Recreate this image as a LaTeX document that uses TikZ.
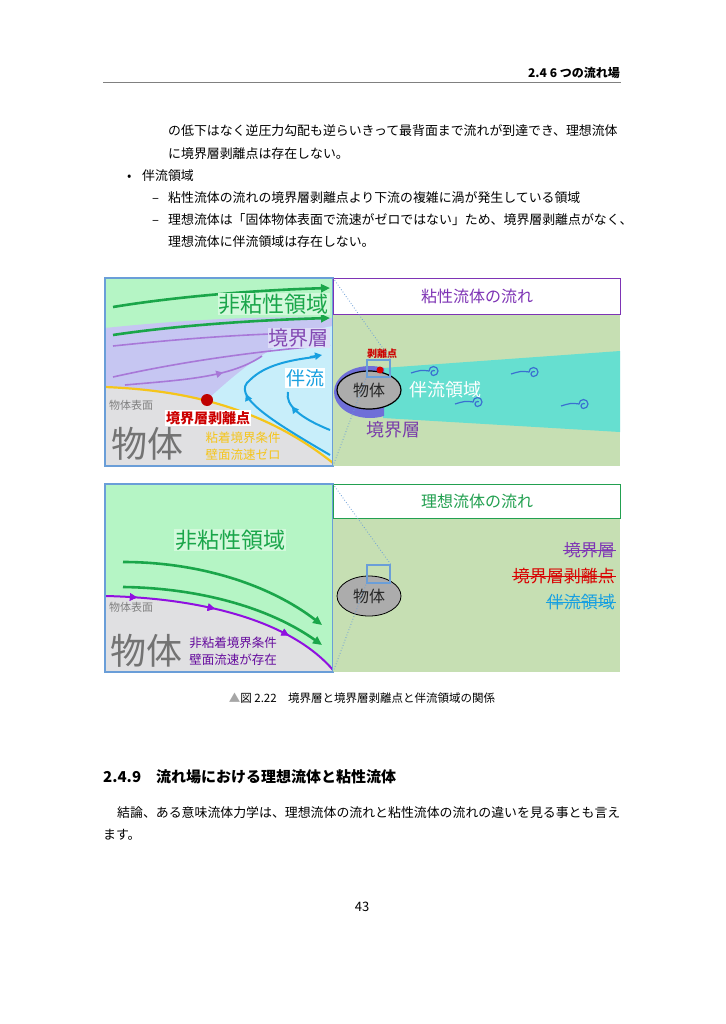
\documentclass[tikz,border=0pt]{standalone}
\usepackage{fontspec}
\setmainfont{Noto Sans CJK JP}
\usetikzlibrary{arrows.meta,decorations.markings,shapes.geometric}
\newcommand{\fsz}[1]{\fontsize{#1}{#1}\selectfont}
\definecolor{gbg}{HTML}{B5F5C5}
\definecolor{lav}{HTML}{C6C6F2}
\definecolor{lblue}{HTML}{C8EEFA}
\definecolor{gry}{HTML}{E0E0E2}
\definecolor{org}{HTML}{F5C51A}
\definecolor{garr}{HTML}{1AA64A}
\definecolor{parr}{HTML}{A878D8}
\definecolor{barr}{HTML}{18A0E0}
\definecolor{rbg}{HTML}{C6DFB3}
\definecolor{cyan2}{HTML}{66DFD0}
\definecolor{spir}{HTML}{3A70D0}
\definecolor{pur}{HTML}{7A3DAA}
\definecolor{frame}{HTML}{6A9ED8}
\definecolor{tgreen}{HTML}{22A050}
\definecolor{vio}{HTML}{9010E0}
\definecolor{crest}{HTML}{6F6FD8}
\tikzset{body/.style={anchor=base west,inner sep=0,font=\fsz{12.9}},
 garrow/.style={garr,line width=2.6pt,-{Triangle[length=9pt,width=8pt]}},
 parrow/.style={parr,line width=1.6pt},
 barrow/.style={barr,line width=2pt},
 zoomln/.style={frame,dotted,line width=0.8pt},
 midarr/.style={postaction={decorate},decoration={markings,mark=at position #1 with {\arrow{Triangle[length=7pt,width=7pt]}}}},
 lab/.style={inner sep=1pt}}
\begin{document}
\begin{tikzpicture}[x=1pt,y=-1pt]
\useasboundingbox (0,0) rectangle (725,1024);
\fill[white] (0,0) rectangle (725,1024);
% header
\node[anchor=base east,inner sep=0,font=\fsz{12}\bfseries] (hdr) at (620,78) {2.4 6 つの流れ場};
\draw[gray,line width=0.8pt] (103,82) -- (621,82);
\node[body] (t1) at (168,136) {の低下はなく逆圧力勾配も逆らいきって最背面まで流れが到達でき、理想流体};
\node[body] (t2) at (168,159) {に境界層剥離点は存在しない。};
\node[body] (b1) at (127,181) {•};
\node[body] (t3) at (142,181) {伴流領域};
\node[body] (d1) at (152,203) {–};
\node[body] (t4) at (168,203) {粘性流体の流れの境界層剥離点より下流の複雑に渦が発生している領域};
\node[body] (d2) at (152,225) {–};
\node[body] (t5) at (168,225) {理想流体は「固体物体表面で流速がゼロではない」ため、境界層剥離点がなく、};
\node[body] (t6) at (168,247) {理想流体に伴流領域は存在しない。};

% ===== top left panel
\begin{scope}
\clip (105,278) rectangle (333,466);
\fill[gbg] (105,278) rectangle (333,466);
\fill[lav] (105,328) .. controls (200,318) and (280,316) .. (333,318) -- (333,466) -- (105,466) -- cycle;
\fill[lblue] (207,400) .. controls (240,370) and (280,335) .. (333,326) -- (333,466) -- (207,466) -- cycle;
\fill[gry] (105,387) .. controls (180,390) and (260,405) .. (333,463) -- (333,466) -- (105,466) -- cycle;
\draw[org,line width=2.2pt] (105,387) .. controls (180,390) and (260,405) .. (333,463);
\draw[garrow] (113,307) .. controls (180,296) and (260,290) .. (330,288);
\draw[garrow] (113,335) .. controls (180,325) and (260,320) .. (330,318);
\draw[parrow] (113,346) .. controls (170,340) and (220,336) .. (270,334);
\draw[parrow] (113,377) .. controls (180,362) and (250,352) .. (330,345);
\draw[parrow,midarr=0.7] (125,385) .. controls (180,380) and (230,378) .. (262,356);
\draw[barrow,midarr=0.55] (330,455) .. controls (270,420) and (230,395) .. (250,380) .. controls (265,365) and (290,360) .. (315,357);
\draw[barr,line width=2pt,-{Triangle[length=7pt,width=7pt]}] (310,357) -- (322,355);
\draw[barrow,midarr=0.75] (330,430) .. controls (300,418) and (285,405) .. (288,392);
\end{scope}
\draw[frame,line width=1.2pt] (105,278) rectangle (333,466);
\node[lab,anchor=east,text=garr,font=\fsz{22},fill=gbg!60!white] (nv1) at (330,304) {非粘性領域};
\node[lab,anchor=east,text=pur!80!parr,font=\fsz{20},fill=lav!60!white] (bl1) at (330,338) {境界層};
\node[lab,anchor=center,text=barr,font=\fsz{19},fill=white] (wk1) at (305,378) {伴流};
\node[lab,anchor=west,text=gray,font=\fsz{11}] (sf1) at (108,405) {物体表面};
\fill[red!75!black] (207,400) circle (6);
\node[lab,anchor=center,text=red!80!black,font=\fsz{14}\bfseries,fill=white] (sp1) at (208,418) {境界層剥離点};
\node[lab,anchor=center,text=gray!90!black,font=\fsz{36}] (ob1) at (147,444) {物体};
\node[lab,anchor=center,text=org,font=\fsz{12.5}] (c1) at (243,438) {粘着境界条件};
\node[lab,anchor=center,text=org,font=\fsz{12.5}] (c2) at (243,455) {壁面流速ゼロ};

% ===== top right panel
\fill[rbg] (333,314) rectangle (620,466);
\fill[cyan2] (383,368) -- (620,351) -- (620,432) -- (383,418) -- cycle;
\begin{scope}
\clip (330,360) rectangle (384,425);
\fill[crest] (370,392) ellipse [x radius=36, y radius=26];
\end{scope}
\node[draw=black,line width=1.2pt,fill=gray!65,ellipse,minimum width=64pt,minimum height=38pt,inner sep=0] (ob2) at (369,390) {};
\node[text=gray!30!black,font=\fsz{16}] at (369,390) {物体};
\fill[red!85!black] (380,370) circle (3.5);
\node[draw=frame,line width=1.4pt,minimum width=23pt,minimum height=17pt,inner sep=0] (sq1) at (378.5,368.5) {};
\node[text=red!80!black,font=\fsz{10}\bfseries,inner sep=0] (sp2) at (382,354) {剥離点};
\node[text=white,font=\fsz{18},inner sep=0] (wk2) at (445,390) {伴流領域};
\node[text=pur,font=\fsz{18},inner sep=0] (bl2) at (393,430) {境界層};
\foreach \sx/\sy in {433/372,533/373,477/403,583/405}{
 \draw[spir,line width=1.2pt] (\sx-22,\sy+1) .. controls (\sx-12,\sy-2) .. (\sx-4,\sy-1)
   arc[start angle=180,end angle=450,radius=4.5] arc[start angle=90,end angle=300,radius=2.5];
}
\node[draw=pur!80!vio,line width=1.4pt,fill=white,minimum width=287pt,minimum height=36pt,anchor=north west,inner sep=0,text=pur!80!vio,font=\fsz{16}] (tt1) at (333,278) {粘性流体の流れ};
\draw[zoomln] (333,278) -- (sq1.north east);
\draw[zoomln] (333,466) -- (sq1.south west);

% ===== bottom left panel
\begin{scope}
\clip (105,484) rectangle (333,672);
\fill[gbg] (105,484) rectangle (333,672);
\fill[gry] (105,596) .. controls (200,598) and (290,620) .. (333,670) -- (333,672) -- (105,672) -- cycle;
\draw[vio,line width=2pt,midarr=0.13,midarr=0.45,midarr=0.77] (105,596) .. controls (200,598) and (290,620) .. (333,670);
\draw[garrow] (123,562) .. controls (200,562) and (270,585) .. (322,625);
\draw[garrow] (123,587) .. controls (200,588) and (270,608) .. (322,645);
\end{scope}
\draw[frame,line width=1.2pt] (105,484) rectangle (333,672);
\node[lab,text=garr,font=\fsz{22},fill=gbg!60!white] (nv2) at (230,540) {非粘性領域};
\node[lab,anchor=west,text=gray,font=\fsz{11}] (sf2) at (108,607) {物体表面};
\node[lab,anchor=center,text=gray!90!black,font=\fsz{36}] (ob3) at (146,651) {物体};
\node[lab,anchor=center,text=vio!70!black,font=\fsz{12.5}] (c3) at (233,643) {非粘着境界条件};
\node[lab,anchor=center,text=vio!70!black,font=\fsz{12.5}] (c4) at (233,660) {壁面流速が存在};

% ===== bottom right panel
\fill[rbg] (333,518) rectangle (620,672);
\node[draw=black,line width=0.8pt,fill=gray!65,ellipse,minimum width=64pt,minimum height=40pt,inner sep=0] (ob4) at (369,596) {};
\node[text=gray!30!black,font=\fsz{16}] at (369,596) {物体};
\node[draw=frame,line width=1.4pt,minimum width=23pt,minimum height=18pt,inner sep=0] (sq2) at (378.5,574) {};
\node[lab,anchor=east,text=pur!80!vio,font=\fsz{17}] (x1) at (616,550) {境界層};
\node[lab,anchor=east,text=red!85!black,font=\fsz{17}] (x2) at (616,576) {境界層剥離点};
\node[lab,anchor=east,text=barr,font=\fsz{17}] (x3) at (616,602) {伴流領域};
\draw[pur!80!vio,line width=1pt] (x1.west) -- (x1.east);
\draw[red!85!black,line width=1pt] (x2.west) -- (x2.east);
\draw[barr,line width=1pt] (x3.west) -- (x3.east);
\node[draw=tgreen,line width=1.4pt,fill=white,minimum width=287pt,minimum height=34pt,anchor=north west,inner sep=0,text=tgreen,font=\fsz{16}] (tt2) at (333,484) {理想流体の流れ};
\draw[zoomln] (333,484) -- (sq2.north east);
\draw[zoomln] (333,672) -- (sq2.south west);

% caption and rest
\node[inner sep=0,font=\fsz{11.5}] (cap) at (362,698) {\textcolor{gray!70}{▲}図 2.22\quad 境界層と境界層剥離点と伴流領域の関係};
\node[anchor=base west,inner sep=0,font=\fsz{15}\bfseries] (sec) at (103,782) {2.4.9\quad 流れ場における理想流体と粘性流体};
\node[body] (p1) at (117,817) {結論、ある意味流体力学は、理想流体の流れと粘性流体の流れの違いを見る事とも言え};
\node[body] (p2) at (103,839) {ます。};
\node[inner sep=0,font=\fsz{13}] (pg) at (362,907) {43};
\end{tikzpicture}
\end{document}
